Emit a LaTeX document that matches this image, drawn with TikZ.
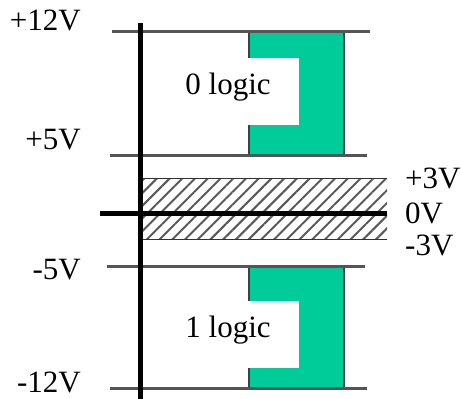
\documentclass[tikz,border=0pt]{standalone}
\usepackage{fontspec}
\setmainfont{Liberation Serif}
\usetikzlibrary{patterns.meta}
\definecolor{logicgreen}{RGB}{0,204,153}
\definecolor{levelgray}{RGB}{85,85,85}
\tikzset{
  x=1pt, y=-1pt,
  lbl/.style={font=\fontsize{31}{31}\selectfont, inner sep=0pt},
  level/.style={draw=levelgray, line width=3pt},
  greenbox/.style={fill=logicgreen, draw=black!75, line width=1.2pt},
  notch/.style={fill=white, draw=none},
}
\begin{document}
\begin{tikzpicture}
\useasboundingbox (0,0) rectangle (461,399);
% hatched band
\fill[pattern={Lines[angle=45,distance=9pt,line width=2pt]}, pattern color=black!65] (140,178) rectangle (387,239);
\draw[black!80, line width=1pt] (140,178) -- (387,178);
\draw[black!80, line width=1pt] (140,239) -- (387,239);
% green boxes
\draw[greenbox] (249,31) rectangle (344,155);
\fill[notch] (248,58) rectangle (299,125);
\draw[greenbox] (249,266) rectangle (344,388);
\fill[notch] (248,301) rectangle (299,368);
% level lines
\draw[level] (112,31) -- (370,31);
\draw[level] (110,155) -- (367,155);
\draw[level] (107,266) -- (365,266);
\draw[level] (110,388) -- (367,388);
% 0V line
\draw[black, line width=5pt] (100,213) -- (387,213);
% axis
\draw[black, line width=5pt] (140,23) -- (140,399);
% labels
\node[lbl, anchor=east] (p12) at (81,20) {+12V};
\node[lbl, anchor=east] (p5) at (81,140) {+5V};
\node[lbl, anchor=east] (m5) at (81,270) {-5V};
\node[lbl, anchor=east] (m12) at (81,382) {-12V};
\node[lbl, anchor=west] (p3) at (405,178) {+3V};
\node[lbl, anchor=west] (z0) at (405,213) {0V};
\node[lbl, anchor=west] (m3) at (405,245) {-3V};
\node[lbl] (l0) at (228,87) {0 logic};
\node[lbl] (l1) at (228,330) {1 logic};
\end{tikzpicture}
\end{document}
